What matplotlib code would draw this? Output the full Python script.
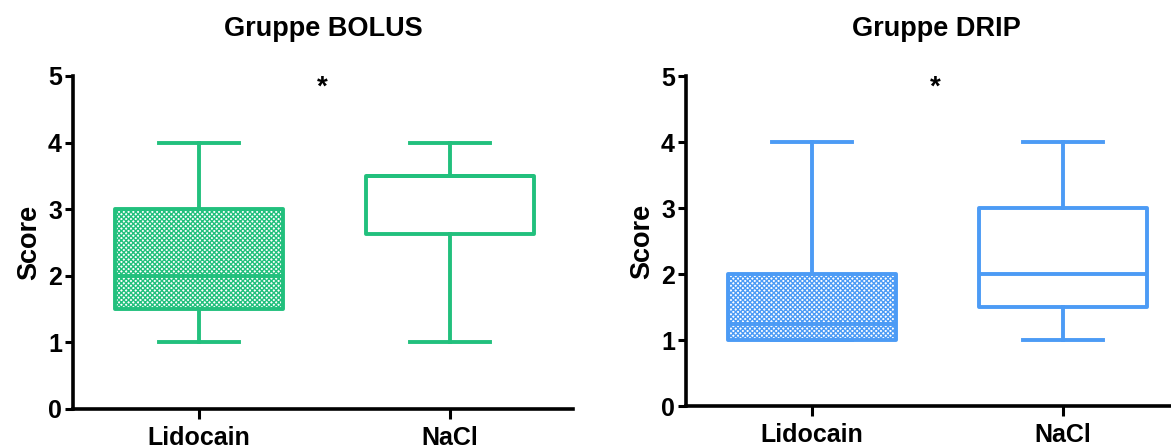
import numpy as np
import matplotlib.pyplot as plt

plt.rcParams['font.family'] = ['Liberation Sans', 'DejaVu Sans']
plt.rcParams['font.weight'] = 'bold'
plt.rcParams['hatch.linewidth'] = 1.0

groups = ['Lidocain', 'NaCl']

# Boxplot summaries (min, Q1, median, Q3, max)
bolus_min = [1.0, 1.0]
bolus_q1 = [1.5, 2.625]
bolus_med = [2.0, 3.5]
bolus_q3 = [3.0, 3.5]
bolus_max = [4.0, 4.0]

drip_min = [1.0, 1.0]
drip_q1 = [1.0, 1.5]
drip_med = [1.25, 2.0]
drip_q3 = [2.0, 3.0]
drip_max = [4.0, 4.0]

star_y = 4.82

GREEN = '#22c07d'
BLUE = '#4c9bf5'
LW = 2.8


def make_stats(mins, q1, med, q3, maxs):
    return [dict(whislo=a, q1=b, med=c, q3=d, whishi=e, fliers=[])
            for a, b, c, d, e in zip(mins, q1, med, q3, maxs)]


def draw_panel(ax, stats, color, title):
    bp = ax.bxp(stats, positions=[0, 1], widths=0.67, patch_artist=True,
                showfliers=False, capwidths=0.32,
                boxprops=dict(linewidth=LW, edgecolor=color, facecolor='white'),
                medianprops=dict(linewidth=LW, color=color),
                whiskerprops=dict(linewidth=LW, color=color),
                capprops=dict(linewidth=LW, color=color))
    # first box is filled with a fine dotted pattern
    b0 = bp['boxes'][0]
    b0.set_hatch('xxxxxxx')
    b0.set_facecolor('white')
    b0.set_edgecolor(color)
    for b in bp['boxes']:
        b.set_joinstyle('round')

    ax.set_xlim(-0.502, 1.49)
    ax.set_ylim(0, 5)
    ax.set_yticks(range(6))
    ax.set_xticks([0, 1])
    ax.set_xticklabels(groups)
    ax.set_ylabel('Score', fontsize=19.5, fontweight='bold', labelpad=4)
    ax.set_title(title, fontsize=19.5, fontweight='bold', pad=29)
    ax.text(0.49, star_y, '*', ha='center', va='center', fontsize=20,
            fontweight='bold')
    for s in ['top', 'right']:
        ax.spines[s].set_visible(False)
    for s in ['left', 'bottom']:
        ax.spines[s].set_linewidth(2.6)
    ax.tick_params(axis='y', length=6, width=2.2, labelsize=18, pad=2)
    ax.tick_params(axis='x', length=7, width=2.2, labelsize=18, pad=5)
    for lab in ax.get_xticklabels() + ax.get_yticklabels():
        lab.set_fontweight('bold')


fig = plt.figure(figsize=(11.71, 4.46), dpi=100)
ax1 = fig.add_axes([73 / 1171, 1 - 409 / 446, 500 / 1171, 333 / 446])
ax2 = fig.add_axes([686 / 1171, 1 - 406 / 446, 500 / 1171, 330 / 446])

draw_panel(ax1, make_stats(bolus_min, bolus_q1, bolus_med, bolus_q3, bolus_max),
           GREEN, 'Gruppe BOLUS')
draw_panel(ax2, make_stats(drip_min, drip_q1, drip_med, drip_q3, drip_max),
           BLUE, 'Gruppe DRIP')

fig.savefig('out.png', dpi=100)
